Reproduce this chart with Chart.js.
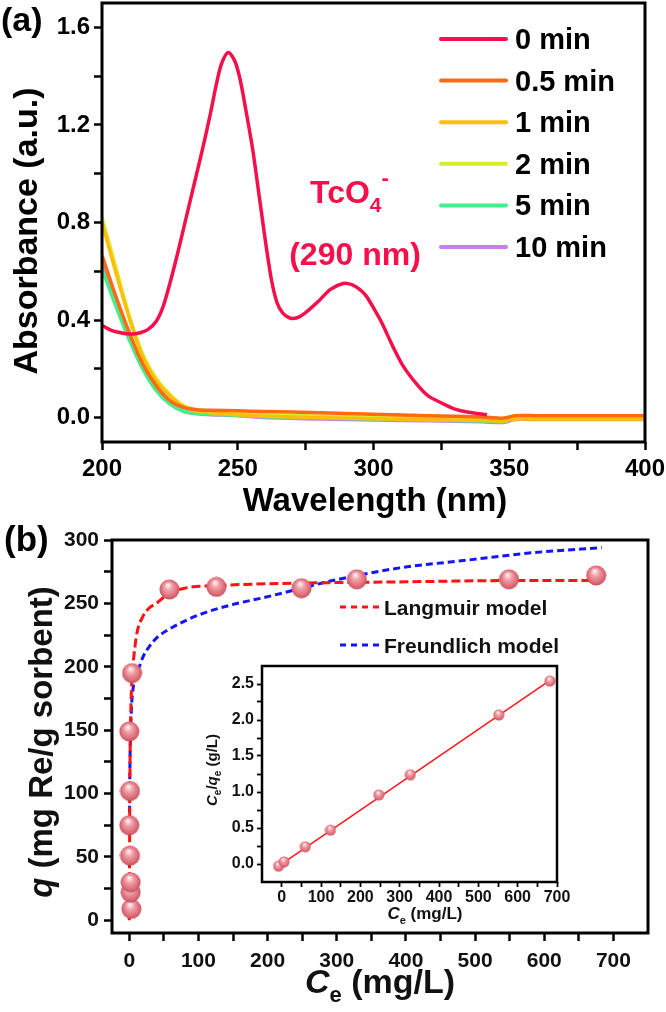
<!DOCTYPE html>
<html>
<head>
<meta charset="utf-8">
<script src="https://cdn.jsdelivr.net/npm/chart.js@4.4.0/dist/chart.umd.min.js"></script>
<style>
  html, body { margin: 0; padding: 0; background: #fff; }
  #wrap { position: relative; width: 666px; height: 1012px; overflow: hidden; }
  canvas { position: absolute; }
  #spectra { left: 0; top: 0; }
  #isotherm { left: 0; top: 520px; }
  #inset { left: 200px; top: 650px; }
</style>
</head>
<body>
<div id="wrap">
  <canvas id="spectra" width="666" height="520"></canvas>
  <canvas id="isotherm" width="666" height="492"></canvas>
  <canvas id="inset" width="380" height="280"></canvas>
</div>
<script>
// index.html - (a) UV-vis spectra, (b) sorption isotherm + linear inset

const FONT = '"Liberation Sans", Arial, sans-serif';
Chart.defaults.font.family = FONT;
Chart.defaults.color = '#000';

// ---- (a) spectra data ----
const timeLabels = ['0 min', '0.5 min', '1 min', '2 min', '5 min', '10 min'];
const timeColors = ['#F5104C', '#FF6A12', '#FFBE0A', '#D6EE2C', '#45EE8C', '#C67EF2'];

const wl0 = [200, 203, 206, 209, 211.5, 214, 217, 220, 222.5, 225, 228, 231, 234, 237, 240, 242, 244, 246.5,
  249, 251, 253, 255.5, 258, 260.5, 262.5, 264.5, 266.5, 268.5, 270.3, 273, 276, 280, 284, 288.8, 292, 295,
  297.2, 300, 303, 307.2, 311, 315.7, 320, 325.6, 330, 335, 341.8];
const abs0 = [0.378, 0.36, 0.35, 0.344, 0.343, 0.348, 0.362, 0.395, 0.455, 0.55, 0.68, 0.82, 0.96, 1.10, 1.25, 1.36, 1.45, 1.497,
  1.46, 1.38, 1.26, 1.10, 0.90, 0.70, 0.56, 0.47, 0.43, 0.412, 0.406, 0.415, 0.44, 0.48, 0.525, 0.55, 0.545, 0.525,
  0.50, 0.45, 0.39, 0.29, 0.21, 0.14, 0.09, 0.057, 0.035, 0.022, 0.012];

const wl = [200, 205, 210, 215, 220, 225, 230, 235, 240, 250, 260, 280, 300, 320, 340, 348, 352, 360, 380, 400];
const abs05 = [0.665, 0.50, 0.35, 0.22, 0.13, 0.07, 0.042, 0.032, 0.03, 0.028, 0.025, 0.02, 0.014, 0.008, 0.002, -0.002, 0.008, 0.008, 0.008, 0.008];
const abs1 = [0.80, 0.60, 0.41, 0.25, 0.15, 0.09, 0.045, 0.026, 0.02, 0.012, 0.006, 0.0, -0.005, -0.008, -0.012, -0.014, -0.006, -0.006, -0.006, -0.006];
const abs2 = [0.82, 0.62, 0.42, 0.26, 0.16, 0.095, 0.05, 0.032, 0.025, 0.018, 0.012, 0.006, 0.002, -0.002, -0.006, -0.008, 0.0, 0.0, 0.0, 0.0];
const abs5 = [0.61, 0.46, 0.32, 0.20, 0.11, 0.055, 0.026, 0.018, 0.014, 0.01, 0.004, -0.002, -0.006, -0.01, -0.014, -0.016, -0.004, -0.004, -0.004, -0.004];
const abs10 = [0.636, 0.475, 0.33, 0.205, 0.115, 0.058, 0.026, 0.016, 0.012, 0.008, 0.0, -0.006, -0.01, -0.013, -0.017, -0.02, -0.008, -0.008, -0.008, -0.008];

const specXTicks = [200, 225, 250, 275, 300, 325, 350, 375, 400];
const specXLabels = [200, 250, 300, 350, 400];
const specYTicks = [0, 0.2, 0.4, 0.6, 0.8, 1, 1.2, 1.4, 1.6];
const specYLabels = [0, 0.4, 0.8, 1.2, 1.6];

// ---- (b) isotherm data ----
const ceData = [3, 2, 2, 1, 0, 1, 0, 4, 58, 126, 249, 329, 549, 675];
const qData = [9, 22, 30, 51, 75, 102, 149, 195, 261, 263, 262, 269, 269, 272];

const langCe = [0, 1, 2, 3, 4.5, 8, 11.6, 19, 28, 39, 58, 80, 126, 250, 400, 550, 675];
const langQ = [0, 120, 160, 180, 195, 215, 228, 239, 246, 250, 258, 262, 264, 266, 267, 268, 268];

const freuCe = [0.3, 1, 3, 6, 10, 14.5, 20, 29, 40, 62, 101, 149, 198, 249, 294, 391, 487, 584, 683];
const freuQ = [85, 125, 165, 185, 194, 200, 208, 216, 223, 231, 241, 249, 255, 262, 268, 278, 284, 290, 294];

const isoXTicks = [0, 50, 100, 150, 200, 250, 300, 350, 400, 450, 500, 550, 600, 650, 700];
const isoXLabels = [0, 100, 200, 300, 400, 500, 600, 700];
const isoYTicks = [0, 25, 50, 75, 100, 125, 150, 175, 200, 225, 250, 275, 300];
const isoYLabels = [0, 50, 100, 150, 200, 250, 300];

// inset: Ce/qe vs Ce
const insetCe = [-8, 6, 60, 124, 247, 327, 552, 682];
const insetRatio = [-0.03, 0.03, 0.24, 0.47, 0.96, 1.24, 2.07, 2.54];
const fitCe = [-8, 682];
const fitRatio = [-0.03, 2.55];

const insetXTicks = [0, 50, 100, 150, 200, 250, 300, 350, 400, 450, 500, 550, 600, 650, 700];
const insetXLabels = [0, 100, 200, 300, 400, 500, 600, 700];
const insetYTicks = [0, 0.25, 0.5, 0.75, 1, 1.25, 1.5, 1.75, 2, 2.25, 2.5];
const insetYLabels = [0, 0.5, 1, 1.5, 2, 2.5];

// ---- helpers ----
function pts(xs, ys) {
  return xs.map((x, i) => ({ x: x, y: ys[i] }));
}

function axis(min, max, ticks, labels, fmt, o) {
  return {
    type: 'linear',
    min: min,
    max: max,
    afterBuildTicks: s => { s.ticks = ticks.map(v => ({ value: v })); },
    afterFit: s => {
      s[o.prop] = o.size;
      s.paddingLeft = s.paddingRight = s.paddingTop = s.paddingBottom = 0;
    },
    ticks: {
      autoSkip: false,
      maxRotation: 0,
      padding: o.pad,
      color: o.color || '#000',
      font: { size: o.font, weight: 'bold' },
      callback: v => labels.includes(v) ? fmt(v) : ''
    },
    grid: { drawOnChartArea: false, drawTicks: true, tickLength: o.tick, tickWidth: o.tw, tickColor: '#000' },
    border: { display: false }
  };
}

// draws a line of text made of runs (italics, subscripts), centred or left aligned
function drawRich(ctx, runs, x, y, opt) {
  opt = opt || {};
  ctx.save();
  ctx.textBaseline = 'alphabetic';
  let total = 0;
  const widths = runs.map(r => { ctx.font = r.font; const w = ctx.measureText(r.text).width; total += w; return w; });
  ctx.translate(x, y);
  if (opt.rotate) ctx.rotate(-Math.PI / 2);
  let cx = opt.align === 'left' ? 0 : -total / 2;
  runs.forEach((r, i) => {
    ctx.font = r.font;
    ctx.fillStyle = opt.color || '#000';
    ctx.fillText(r.text, cx, r.dy || 0);
    cx += widths[i];
  });
  ctx.restore();
}

function frame(chart, width) {
  const a = chart.chartArea;
  const ctx = chart.ctx;
  ctx.save();
  ctx.strokeStyle = '#000';
  ctx.lineWidth = width;
  ctx.strokeRect(a.left, a.top, a.right - a.left, a.bottom - a.top);
  ctx.restore();
}

function sphere(d) {
  const c = document.createElement('canvas');
  c.width = c.height = d;
  const g = c.getContext('2d');
  const r = d / 2;
  const grad = g.createRadialGradient(r * 0.85, r * 0.55, r * 0.05, r, r, r);
  grad.addColorStop(0, '#FFF4F5');
  grad.addColorStop(0.35, '#F0A0A8');
  grad.addColorStop(0.8, '#DC6874');
  grad.addColorStop(1, '#B94C5A');
  g.fillStyle = grad;
  g.beginPath();
  g.arc(r, r, r - 0.5, 0, Math.PI * 2);
  g.fill();
  return c;
}

const B = 'bold ';
const BI = 'italic bold ';

const common = {
  responsive: false,
  animation: false,
  events: [],
  plugins: { legend: { display: false }, tooltip: { enabled: false } }
};

// ---- (a) spectra chart ----
const specSeries = [[wl0, abs0], [wl, abs05], [wl, abs1], [wl, abs2], [wl, abs5], [wl, abs10]];

new Chart(document.getElementById('spectra'), {
  type: 'line',
  data: {
    datasets: specSeries.map((s, i) => ({
      label: timeLabels[i],
      data: pts(s[0], s[1]),
      borderColor: timeColors[i],
      borderWidth: 3.5,
      pointRadius: 0,
      tension: 0.3,
      fill: false
    }))
  },
  options: Object.assign({}, common, {
    layout: { padding: { left: 0, top: 3, right: 21, bottom: 0 } },
    scales: {
      x: axis(200, 400, specXTicks, specXLabels, v => String(v), { prop: 'height', size: 78, pad: 5, font: 24, tick: 8, tw: 2.5 }),
      y: axis(-0.1, 1.7, specYTicks, specYLabels, v => v.toFixed(1), { prop: 'width', size: 102, pad: 4, font: 24, tick: 8, tw: 2.5 })
    }
  }),
  plugins: [{
    id: 'specDecor',
    afterDraw(chart) {
      const ctx = chart.ctx;
      frame(chart, 3);
      drawRich(ctx, [{ text: '(a)', font: B + '34px ' + FONT }], 1, 31, { align: 'left' });
      drawRich(ctx, [{ text: 'Absorbance (a.u.)', font: B + '34px ' + FONT }], 37, 231, { rotate: true });
      drawRich(ctx, [{ text: 'Wavelength (nm)', font: B + '33px ' + FONT }], 375, 511);
      // legend
      timeLabels.forEach((t, i) => {
        const y = 39 + i * 41.6;
        ctx.save();
        ctx.strokeStyle = timeColors[i];
        ctx.lineWidth = 4;
        ctx.lineCap = 'round';
        ctx.beginPath();
        ctx.moveTo(441, y);
        ctx.lineTo(506, y);
        ctx.stroke();
        ctx.restore();
        drawRich(ctx, [{ text: t, font: B + '29px ' + FONT }], 515, y + 10, { align: 'left' });
      });
      // annotation
      const red = timeColors[0];
      drawRich(ctx, [
        { text: 'TcO', font: B + '32px ' + FONT },
        { text: '4', font: B + '21px ' + FONT, dy: 9 },
        { text: '-', font: B + '22px ' + FONT, dy: -18 }
      ], 310, 203, { align: 'left', color: red });
      drawRich(ctx, [{ text: '(290 nm)', font: B + '32px ' + FONT }], 355, 265, { color: red });
    }
  }]
});

// ---- (b) isotherm chart ----
const bigBall = sphere(21);
const smallBall = sphere(12);
const ink = '#111';

new Chart(document.getElementById('isotherm'), {
  type: 'scatter',
  data: {
    datasets: [
      { label: 'Experimental', data: pts(ceData, qData), pointStyle: bigBall, pointRadius: 10, showLine: false },
      { label: 'Langmuir model', data: pts(langCe, langQ), showLine: true, borderColor: '#FF1212', borderWidth: 3,
        borderDash: [9, 4], pointRadius: 0, cubicInterpolationMode: 'monotone' },
      { label: 'Freundlich model', data: pts(freuCe, freuQ), showLine: true, borderColor: '#1414FF', borderWidth: 3,
        borderDash: [7, 4], pointRadius: 0, cubicInterpolationMode: 'monotone' }
    ]
  },
  options: Object.assign({}, common, {
    layout: { padding: { left: 0, top: 20, right: 18, bottom: 0 } },
    scales: {
      x: axis(-25, 750, isoXTicks, isoXLabels, v => String(v), { prop: 'height', size: 79, pad: 8, font: 21, tick: 8, tw: 2.5, color: ink }),
      y: axis(-10, 300, isoYTicks, isoYLabels, v => String(v), { prop: 'width', size: 112, pad: 5, font: 21, tick: 8, tw: 2.5, color: ink })
    }
  }),
  plugins: [{
    id: 'isoDecor',
    afterDraw(chart) {
      const ctx = chart.ctx;
      frame(chart, 3);
      drawRich(ctx, [{ text: '(b)', font: B + '35px ' + FONT }], 4, 31, { align: 'left' });
      drawRich(ctx, [
        { text: 'q', font: BI + '33px ' + FONT },
        { text: ' (mg Re/g sorbent)', font: B + '33px ' + FONT }
      ], 52, 222, { rotate: true, color: ink });
      drawRich(ctx, [
        { text: 'C', font: BI + '34px ' + FONT },
        { text: 'e', font: B + '22px ' + FONT, dy: 9 },
        { text: ' (mg/L)', font: B + '34px ' + FONT }
      ], 380, 473, { color: ink });
      // legend
      const items = [['Langmuir model', '#FF1212', 87], ['Freundlich model', '#1414FF', 125]];
      items.forEach(it => {
        ctx.save();
        ctx.strokeStyle = it[1];
        ctx.lineWidth = 3;
        ctx.setLineDash([6, 5]);
        ctx.beginPath();
        ctx.moveTo(340, it[2]);
        ctx.lineTo(380, it[2]);
        ctx.stroke();
        ctx.restore();
        drawRich(ctx, [{ text: it[0], font: B + '21px ' + FONT }], 384, it[2] + 7.5, { align: 'left', color: ink });
      });
    }
  }]
});

// ---- inset: linear Langmuir fit ----
new Chart(document.getElementById('inset'), {
  type: 'scatter',
  data: {
    datasets: [
      { label: 'Ce/qe', data: pts(insetCe, insetRatio), pointStyle: smallBall, pointRadius: 6, showLine: false },
      { label: 'fit', data: pts(fitCe, fitRatio), showLine: true, borderColor: '#FF1A1A', borderWidth: 1.6, pointRadius: 0 }
    ]
  },
  options: Object.assign({}, common, {
    layout: { padding: { left: 0, top: 16, right: 23, bottom: 0 } },
    scales: {
      x: axis(-50, 700, insetXTicks, insetXLabels, v => String(v), { prop: 'height', size: 48, pad: 1, font: 16, tick: 5, tw: 1.8, color: ink }),
      y: axis(-0.25, 2.75, insetYTicks, insetYLabels, v => v.toFixed(1), { prop: 'width', size: 62, pad: 3, font: 16, tick: 5, tw: 1.8, color: ink })
    }
  }),
  plugins: [{
    id: 'insetDecor',
    afterDraw(chart) {
      const ctx = chart.ctx;
      frame(chart, 2.5);
      drawRich(ctx, [
        { text: 'C', font: BI + '15px ' + FONT },
        { text: 'e', font: B + '10px ' + FONT, dy: 4 },
        { text: '/', font: B + '15px ' + FONT },
        { text: 'q', font: BI + '15px ' + FONT },
        { text: 'e', font: B + '10px ' + FONT, dy: 4 },
        { text: ' (g/L)', font: B + '15px ' + FONT }
      ], 17, 120, { rotate: true, color: ink });
      drawRich(ctx, [
        { text: 'C', font: BI + '17px ' + FONT },
        { text: 'e', font: B + '11px ' + FONT, dy: 5 },
        { text: ' (mg/L)', font: B + '17px ' + FONT }
      ], 225, 269, { color: ink });
    }
  }]
});
</script>
</body>
</html>
